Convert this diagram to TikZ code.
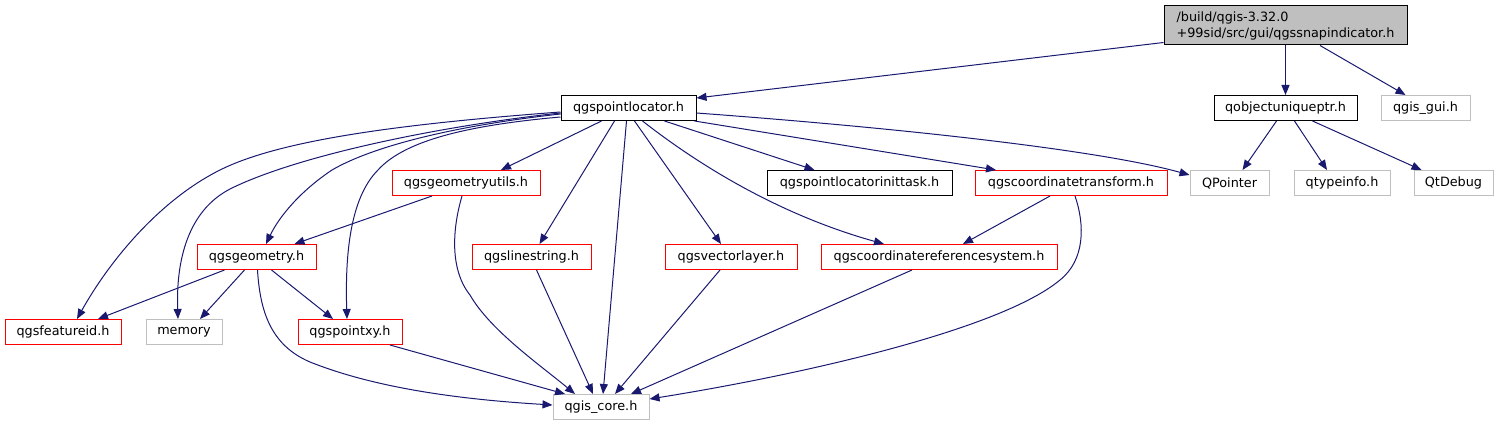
\documentclass[tikz,border=0pt]{standalone}
\usepackage{fontspec}
\setmainfont{DejaVu Sans}
\usetikzlibrary{arrows.meta}
\definecolor{edgeblue}{HTML}{191970}
\definecolor{redb}{HTML}{FF0000}
\definecolor{grayb}{HTML}{BFBFBF}
\definecolor{rootfill}{HTML}{BFBFBF}
\begin{document}
\begin{tikzpicture}[x=1pt,y=-1pt,
  box/.style={draw, line width=1pt, rectangle, minimum height=25pt, inner sep=0pt, font=\fontsize{12.8}{16}\selectfont, text=black},
  blackbox/.style={box, draw=black},
  redbox/.style={box, draw=redb},
  graybox/.style={box, draw=grayb},
  dep/.style={draw=edgeblue, line width=1pt, -{Triangle[length=10pt,width=8pt]}}
]
\useasboundingbox (0,0) rectangle (1499,425);
% nodes
\node[box, draw=black, fill=rootfill, minimum width=243pt, minimum height=39pt, align=left] (root) at (1285.5,25.5) {/build/qgis-3.32.0\\+99sid/src/gui/qgssnapindicator.h};
\node[blackbox, minimum width=135pt] (pl) at (628.5,108) {qgspointlocator.h};
\node[blackbox, minimum width=143pt] (qou) at (1285.5,108) {qobjectuniqueptr.h};
\node[graybox, minimum width=89pt] (gui) at (1425.5,108) {qgis\_gui.h};
\node[redbox, minimum width=148pt] (gu) at (466,183) {qgsgeometryutils.h};
\node[blackbox, minimum width=185pt] (plit) at (859.5,183) {qgspointlocatorinittask.h};
\node[redbox, minimum width=192pt] (ct) at (1071,183) {qgscoordinatetransform.h};
\node[graybox, minimum width=79pt] (qp) at (1229.5,183) {QPointer};
\node[graybox, minimum width=96pt] (ti) at (1342,183) {qtypeinfo.h};
\node[graybox, minimum width=79pt] (qd) at (1453.5,183) {QtDebug};
\node[redbox, minimum width=119pt] (geo) at (256.5,257) {qgsgeometry.h};
\node[redbox, minimum width=119pt] (ls) at (531.5,257) {qgslinestring.h};
\node[redbox, minimum width=132pt] (vl) at (731,257) {qgsvectorlayer.h};
\node[redbox, minimum width=236pt] (crs) at (939,257) {qgscoordinatereferencesystem.h};
\node[redbox, minimum width=116pt] (fid) at (63,332) {qgsfeatureid.h};
\node[graybox, minimum width=76pt] (mem) at (184,332) {memory};
\node[redbox, minimum width=104pt] (pxy) at (350,332) {qgspointxy.h};
\node[graybox, minimum width=96pt] (core) at (601,407) {qgis\_core.h};
% edges from root
\draw[dep] ([yshift=3pt]root.south west) -- ([yshift=-3pt]pl.north east);
\draw[dep] (root.south) -- (qou.north);
\draw[dep] ([xshift=34.5pt]root.south) -- ([xshift=-20pt]gui.north);
% qobjectuniqueptr
\draw[dep] ([xshift=-9pt]qou.south) -- ([xshift=13pt]qp.north);
\draw[dep] ([xshift=9pt]qou.south) -- ([xshift=-15pt]ti.north);
\draw[dep] ([xshift=27pt]qou.south) -- ([xshift=-32pt]qd.north);
% qgspointlocator
\draw[dep] ([yshift=-5pt]pl.east) .. controls (900,128) and (1100,150) .. ([yshift=8pt]qp.west);
\draw[dep] ([xshift=-2pt]pl.south east) -- ([xshift=-75pt]ct.north);
\draw[dep] ([xshift=36pt]pl.south) -- ([xshift=-45pt]plit.north);
\draw[dep] ([xshift=14pt]pl.south) .. controls (700,166) and (780,215) .. ([xshift=-55pt]crs.north);
\draw[dep] ([xshift=6pt]pl.south) -- ([xshift=-10pt]vl.north);
\draw[dep] ([xshift=-2pt]pl.south) -- ([xshift=2pt]core.north);
\draw[dep] ([xshift=-14pt]pl.south) -- ([xshift=8pt]ls.north);
\draw[dep] ([xshift=-27pt]pl.south) -- ([xshift=35pt]gu.north);
\draw[dep] ([yshift=-4pt]pl.west) .. controls (400,124) and (280,140) .. (220,170) .. controls (160,200) and (110,260) .. ([xshift=14pt]fid.north);
\draw[dep] ([yshift=-5pt]pl.west) .. controls (440,126) and (300,155) .. (232,188) .. controls (187,210) and (176,262) .. ([xshift=-6pt]mem.north);
\draw[dep] ([yshift=-6pt]pl.west) .. controls (460,125) and (375,145) .. (332,170) .. controls (302,190) and (280,215) .. ([xshift=9.5pt]geo.north);
\draw[dep] ([yshift=-9pt]pl.west) .. controls (470,125) and (405,140) .. (378,170) .. controls (350,198) and (345,255) .. ([xshift=-3pt]pxy.north);
% qgsgeometryutils
\draw[dep] ([xshift=-34pt]gu.south) -- ([xshift=38pt]geo.north);
\draw[dep] ([xshift=-4pt]gu.south) .. controls (452,230) and (450,270) .. (470,295) .. controls (490,330) and (540,365) .. ([xshift=-26pt]core.north);
% qgsgeometry
\draw[dep] ([xshift=-32pt]geo.south) -- ([xshift=35pt]fid.north);
\draw[dep] ([xshift=-12pt]geo.south) -- ([xshift=16pt]mem.north);
\draw[dep] ([xshift=15pt]geo.south) -- ([xshift=-17pt]pxy.north);
\draw[dep] ([xshift=1pt]geo.south) .. controls (260,310) and (270,345) .. (310,362) .. controls (380,390) and (470,400) .. ([yshift=2pt]core.west);
% to qgis_core
\draw[dep] ([xshift=40pt]pxy.south) -- ([xshift=-36pt]core.north);
\draw[dep] ([xshift=5pt]ls.south) -- ([xshift=-8pt]core.north);
\draw[dep] ([xshift=-11pt]vl.south) -- ([xshift=14pt]core.north);
\draw[dep] ([xshift=-27pt]crs.south) -- ([xshift=30pt]core.north);
% qgscoordinatetransform
\draw[dep] ([xshift=-21pt]ct.south) -- ([xshift=24pt]crs.north);
\draw[dep] ([xshift=4pt]ct.south) .. controls (1085,225) and (1085,260) .. (1060,280) .. controls (1000,330) and (800,375) .. ([yshift=8pt]core.east);
\end{tikzpicture}
\end{document}
